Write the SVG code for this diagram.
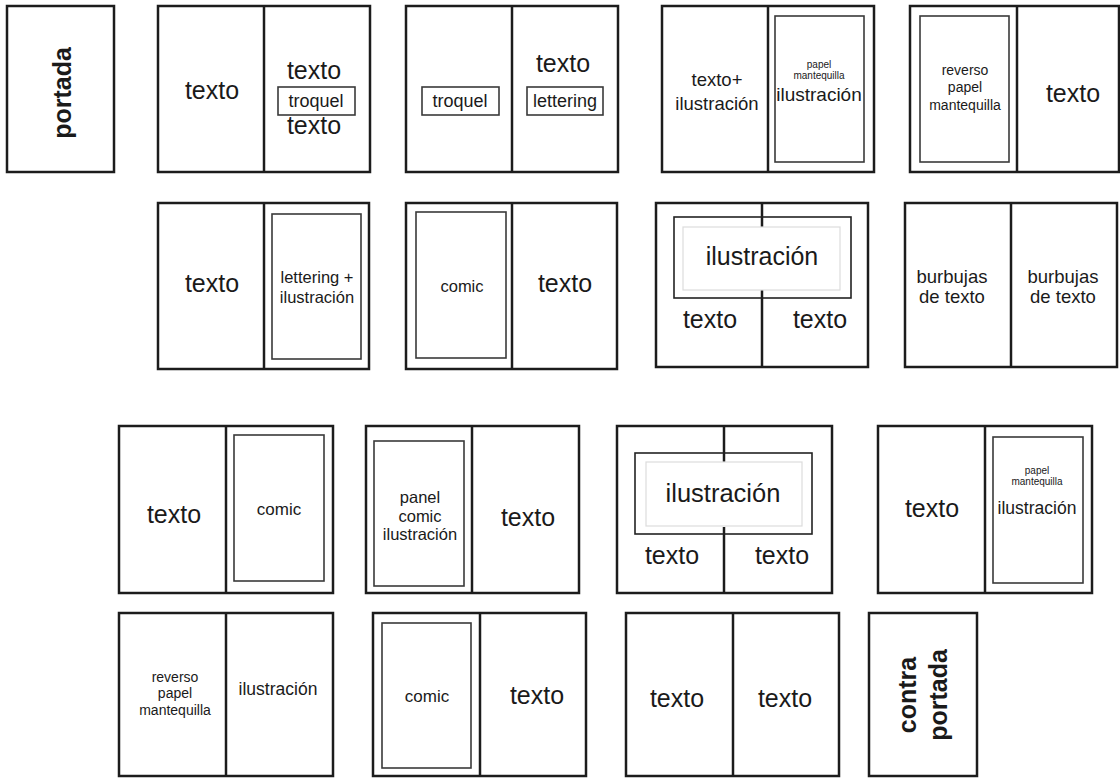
<svg xmlns="http://www.w3.org/2000/svg" width="1120" height="778" viewBox="0 0 1120 778">
<style>
.pg{fill:#fff;stroke:#1c1c1c;stroke-width:2.5}
.dv{stroke:#1c1c1c;stroke-width:2.5}
.in{fill:none;stroke:#3a3a3a;stroke-width:1.6}
.ill{fill:none;stroke:#222;stroke-width:1.6}
.lg{fill:none;stroke:#dcdcdc;stroke-width:1.2}
text{font-family:"Liberation Sans",Arial,sans-serif;fill:#1a1a1a;text-anchor:middle}
.b{font-size:25px}
.bd{font-weight:bold;font-size:25px}
</style>
<rect width="1120" height="778" fill="#fff"/>
<g id="portada">
<rect class="pg" x="7" y="6" width="107" height="166"/>
<text class="bd" transform="translate(62,93) rotate(-90)" y="9">portada</text>
</g>
<g id="s1">
<rect class="pg" x="158" y="6" width="212" height="166"/>
<line class="dv" x1="264" y1="6" x2="264" y2="172"/>
<text class="b" x="212" y="99">texto</text>
<text class="b" x="314" y="79">texto</text>
<rect class="in" x="278" y="87" width="77" height="28"/>
<text x="316" y="107" font-size="18">troquel</text>
<text class="b" x="314" y="134">texto</text>
</g>
<g id="s2">
<rect class="pg" x="406" y="6" width="212" height="166"/>
<line class="dv" x1="512" y1="6" x2="512" y2="172"/>
<rect class="in" x="422" y="87" width="77" height="28"/>
<text x="460" y="107" font-size="18">troquel</text>
<text class="b" x="563" y="72">texto</text>
<rect class="in" x="527" y="87" width="76" height="28"/>
<text x="565" y="107" font-size="18">lettering</text>
</g>
<g id="s3">
<rect class="pg" x="662" y="6" width="212" height="166"/>
<line class="dv" x1="768" y1="6" x2="768" y2="172"/>
<text x="717" y="86" font-size="18.5">texto+</text>
<text x="717" y="110" font-size="18.5">ilustración</text>
<rect class="in" x="775" y="16" width="89" height="146"/>
<text x="819" y="68" font-size="10">papel</text>
<text x="819" y="79" font-size="10">mantequilla</text>
<text x="819" y="101" font-size="19">ilustración</text>
</g>
<g id="s4">
<rect class="pg" x="910" y="6" width="209" height="166"/>
<line class="dv" x1="1017" y1="6" x2="1017" y2="172"/>
<rect class="in" x="920" y="16" width="89" height="146"/>
<text x="965" y="75" font-size="14">reverso</text>
<text x="965" y="92" font-size="14">papel</text>
<text x="965" y="110" font-size="14">mantequilla</text>
<text class="b" x="1073" y="102">texto</text>
</g>
<g id="s5">
<rect class="pg" x="158" y="203" width="211" height="166"/>
<line class="dv" x1="264" y1="203" x2="264" y2="369"/>
<text class="b" x="212" y="292">texto</text>
<rect class="in" x="272" y="214" width="89" height="145"/>
<text x="317" y="283" font-size="16.5">lettering +</text>
<text x="317" y="303" font-size="16.5">ilustración</text>
</g>
<g id="s6">
<rect class="pg" x="406" y="203" width="211" height="166"/>
<line class="dv" x1="512" y1="203" x2="512" y2="369"/>
<rect class="in" x="416" y="212" width="90" height="146"/>
<text x="462" y="292" font-size="16.5">comic</text>
<text class="b" x="565" y="292">texto</text>
</g>
<g id="s7">
<rect class="pg" x="656" y="203" width="212" height="164"/>
<line class="dv" x1="762" y1="203" x2="762" y2="227"/>
<line class="dv" x1="762" y1="290" x2="762" y2="367"/>
<rect class="ill" x="674" y="217" width="177" height="81"/>
<rect class="lg" x="683" y="227" width="157" height="63"/>
<text x="762" y="265" font-size="25">ilustración</text>
<text class="b" x="710" y="328">texto</text>
<text class="b" x="820" y="328">texto</text>
</g>
<g id="s8">
<rect class="pg" x="905" y="203" width="212" height="164"/>
<line class="dv" x1="1011" y1="203" x2="1011" y2="367"/>
<text x="952" y="283" font-size="18.5">burbujas</text>
<text x="952" y="303" font-size="18.5">de texto</text>
<text x="1063" y="283" font-size="18.5">burbujas</text>
<text x="1063" y="303" font-size="18.5">de texto</text>
</g>
<g id="s9">
<rect class="pg" x="119" y="426" width="214" height="167"/>
<line class="dv" x1="226" y1="426" x2="226" y2="593"/>
<text class="b" x="174" y="523">texto</text>
<rect class="in" x="234" y="435" width="90" height="146"/>
<text x="279" y="515" font-size="17">comic</text>
</g>
<g id="s10">
<rect class="pg" x="366" y="426" width="213" height="167"/>
<line class="dv" x1="472" y1="426" x2="472" y2="593"/>
<rect class="in" x="374" y="441" width="90" height="145"/>
<text x="420" y="503" font-size="16.5">panel</text>
<text x="420" y="522" font-size="16.5">comic</text>
<text x="420" y="540" font-size="16.5">ilustración</text>
<text class="b" x="528" y="526">texto</text>
</g>
<g id="s11">
<rect class="pg" x="617" y="426" width="215" height="167"/>
<line class="dv" x1="724" y1="426" x2="724" y2="462"/>
<line class="dv" x1="724" y1="527" x2="724" y2="593"/>
<rect class="ill" x="635" y="453" width="177" height="81"/>
<rect class="lg" x="646" y="462" width="156" height="64"/>
<text x="723" y="502" font-size="25.5">ilustración</text>
<text class="b" x="672" y="564">texto</text>
<text class="b" x="782" y="564">texto</text>
</g>
<g id="s12">
<rect class="pg" x="878" y="426" width="214" height="167"/>
<line class="dv" x1="985" y1="426" x2="985" y2="593"/>
<text class="b" x="932" y="517">texto</text>
<rect class="in" x="993" y="437" width="90" height="146"/>
<text x="1037" y="474" font-size="10">papel</text>
<text x="1037" y="485" font-size="10">mantequilla</text>
<text x="1037" y="514" font-size="17.5">ilustración</text>
</g>
<g id="s13">
<rect class="pg" x="119" y="613" width="214" height="163"/>
<line class="dv" x1="226" y1="613" x2="226" y2="776"/>
<text x="175" y="682" font-size="14">reverso</text>
<text x="175" y="698" font-size="14">papel</text>
<text x="175" y="715" font-size="14">mantequilla</text>
<text x="278" y="695" font-size="17.5">ilustración</text>
</g>
<g id="s14">
<rect class="pg" x="373" y="613" width="213" height="163"/>
<line class="dv" x1="480" y1="613" x2="480" y2="776"/>
<rect class="in" x="382" y="623" width="89" height="145"/>
<text x="427" y="702" font-size="17">comic</text>
<text class="b" x="537" y="704">texto</text>
</g>
<g id="s15">
<rect class="pg" x="626" y="613" width="213" height="163"/>
<line class="dv" x1="733" y1="613" x2="733" y2="776"/>
<text class="b" x="677" y="707">texto</text>
<text class="b" x="785" y="707">texto</text>
</g>
<g id="contraportada">
<rect class="pg" x="869" y="613" width="108" height="163"/>
<text class="bd" transform="translate(907,695) rotate(-90)" y="9">contra</text>
<text class="bd" transform="translate(938,695) rotate(-90)" y="9">portada</text>
</g>
<g id="connectors"></g>
</svg>
